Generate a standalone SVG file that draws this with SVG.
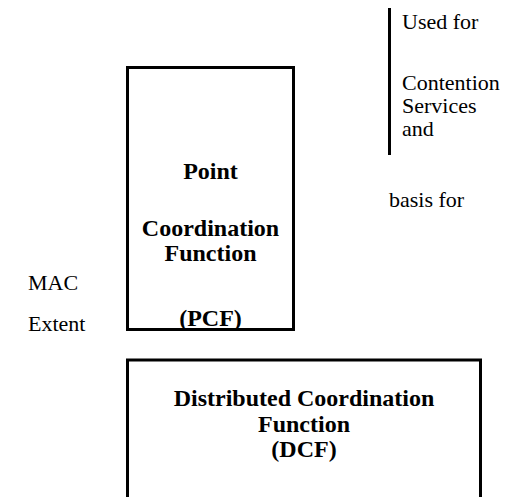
<svg xmlns="http://www.w3.org/2000/svg" width="519" height="497" viewBox="0 0 519 497">
<style>
.box{fill:#fff;stroke:#000;stroke-width:3}
.b{font-family:"Liberation Serif","Times New Roman",serif;font-weight:bold;font-size:24px;text-anchor:middle;fill:#000}
.r{font-family:"Liberation Serif","Times New Roman",serif;font-size:22px;fill:#000}
.ln{stroke:#000;stroke-width:3;fill:none}
</style>
<rect width="519" height="497" fill="#fff"/>
<g id="pcf">
<rect class="box" x="127.5" y="67.5" width="166" height="262"/>
<text class="b" x="210.5" y="179">Point</text>
<text class="b" x="210.5" y="236">Coordination</text>
<text class="b" x="210.5" y="261">Function</text>
<text class="b" x="210.5" y="326">(PCF)</text>
</g>
<g id="dcf">
<rect class="box" x="127.5" y="360" width="353" height="150"/>
<text class="b" x="304" y="406">Distributed Coordination</text>
<text class="b" x="304" y="432">Function</text>
<text class="b" x="304" y="457">(DCF)</text>
</g>
<g id="connectors">
<line class="ln" x1="389.5" y1="8" x2="389.5" y2="155"/>
</g>
<g id="labels">
<text class="r" x="402" y="29">Used for</text>
<text class="r" x="402" y="90">Contention</text>
<text class="r" x="402" y="113">Services</text>
<text class="r" x="402" y="136">and</text>
<text class="r" x="389" y="207">basis for</text>
<text class="r" x="28" y="290">MAC</text>
<text class="r" x="28" y="331">Extent</text>
</g>
</svg>
